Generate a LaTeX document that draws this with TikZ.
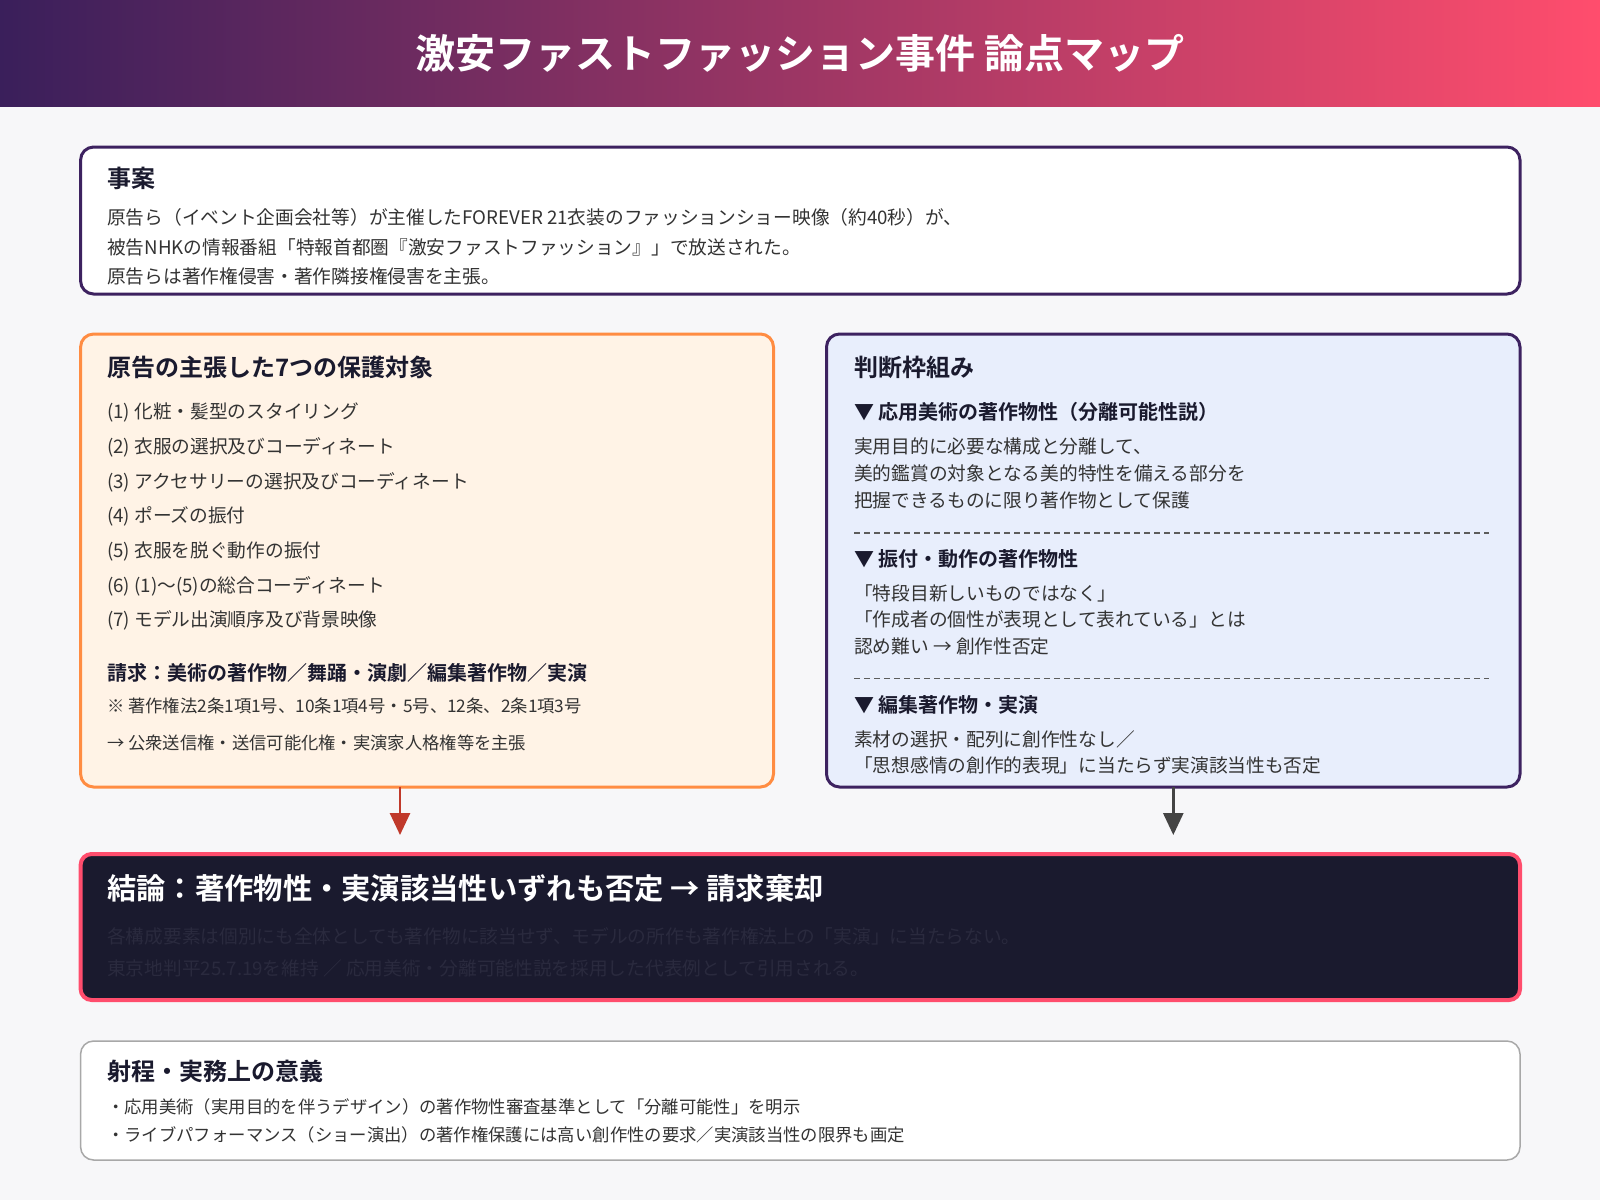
\documentclass[tikz,border=0pt]{standalone}
\usepackage{fontspec}
\setmainfont{Noto Sans CJK JP}[BoldFont={Noto Sans CJK JP Bold}]
\usetikzlibrary{arrows.meta}
\definecolor{bg}{HTML}{F7F7F9}
\definecolor{hdrL}{HTML}{3A1F5B}
\definecolor{hdrR}{HTML}{FF4D6D}
\definecolor{purp}{HTML}{3D2260}
\definecolor{orng}{HTML}{FF8C42}
\definecolor{orngfill}{HTML}{FFF3E6}
\definecolor{bluefill}{HTML}{E8EEFC}
\definecolor{navy}{HTML}{1A1A2E}
\definecolor{body}{HTML}{333333}
\definecolor{dimtxt}{HTML}{2A2A3E}
\definecolor{redarr}{HTML}{C0392B}
\definecolor{grayarr}{HTML}{444444}
\definecolor{grayb}{HTML}{A8A8A8}
\newcommand{\fsz}[1]{\fontsize{#1}{#1}\selectfont}
\tikzset{
  boxbase/.style={anchor=north west, inner sep=0pt, outer sep=0pt, rounded corners=13pt},
  factbox/.style={boxbase, draw=purp, line width=3pt, fill=white},
  leftbox/.style={boxbase, draw=orng, line width=3pt, fill=orngfill},
  rightbox/.style={boxbase, draw=purp, line width=3pt, fill=bluefill},
  conclbox/.style={boxbase, draw=hdrR, line width=4pt, fill=navy, rounded corners=11pt},
  botbox/.style={boxbase, draw=grayb, line width=1.5pt, fill=white},
  txt/.style={anchor=base west, inner sep=0pt, text=body, font=\fsz{18.7}},
  head/.style={anchor=base west, inner sep=0pt, text=navy, font=\bfseries\fsz{24}},
  subhead/.style={anchor=base west, inner sep=0pt, text=navy, font=\bfseries\fsz{20}},
  small/.style={anchor=base west, inner sep=0pt, text=body, font=\fsz{17.3}},
  sep/.style={draw=body!80, line width=1.2pt, dash pattern=on 6pt off 4pt},
  flow/.style={line width=2.7pt, -{Triangle[width=20pt,length=22pt]}, shorten >=19pt}
}
\begin{document}
\begin{tikzpicture}[x=1pt,y=-1pt]
\useasboundingbox (0,0) rectangle (1600,1200);
\fill[bg] (0,0) rectangle (1600,1200);
\shade[left color=hdrL, right color=hdrR] (0,0) rectangle (1600,106);
\node[anchor=base, inner sep=0pt, text=white, font=\bfseries\fsz{40}] (title) at (800,68.5) {激安ファストファッション事件 論点マップ};

% facts
\node[factbox, minimum width=1439.4pt, minimum height=147pt] (facts) at (80.6,147) {};
\node[head] (factsh) at (107,187.5) {事案};
\node[txt] (f1) at (107,224.5) {原告ら（イベント企画会社等）が主催したFOREVER 21衣装のファッションショー映像（約40秒）が、};
\node[txt] (f2) at (107,254.5) {被告NHKの情報番組「特報首都圏『激安ファストファッション』」で放送された。};
\node[txt] (f3) at (107,283.5) {原告らは著作権侵害・著作隣接権侵害を主張。};

% left
\node[leftbox, minimum width=692.9pt, minimum height=453pt] (left) at (80.6,334) {};
\node[head] (lefth) at (107,376) {原告の主張した7つの保護対象};
\node[txt] (l1) at (107,418) {(1) 化粧・髪型のスタイリング};
\node[txt] (l2) at (107,453) {(2) 衣服の選択及びコーディネート};
\node[txt] (l3) at (107,488) {(3) アクセサリーの選択及びコーディネート};
\node[txt] (l4) at (107,522) {(4) ポーズの振付};
\node[txt] (l5) at (107,557) {(5) 衣服を脱ぐ動作の振付};
\node[txt] (l6) at (107,592) {(6) (1)〜(5)の総合コーディネート};
\node[txt] (l7) at (107,626) {(7) モデル出演順序及び背景映像};
\node[subhead] (claim) at (107,680) {請求：美術の著作物／舞踊・演劇／編集著作物／実演};
\node[small] (law) at (107,712.3) {※ 著作権法2条1項1号、10条1項4号・5号、12条、2条1項3号};
\node[small] (rights) at (107,749.3) {→ 公衆送信権・送信可能化権・実演家人格権等を主張};

% right
\node[rightbox, minimum width=693.5pt, minimum height=453pt] (right) at (826.5,334) {};
\node[head] (righth) at (854,376) {判断枠組み};
\node[subhead] (r1h) at (854,419.5) {▼ 応用美術の著作物性（分離可能性説）};
\node[txt] (r1a) at (854,453) {実用目的に必要な構成と分離して、};
\node[txt] (r1b) at (854,480.5) {美的鑑賞の対象となる美的特性を備える部分を};
\node[txt] (r1c) at (854,507) {把握できるものに限り著作物として保護};
\coordinate (d1a) at (854,533); \coordinate (d1b) at (1489,533);
\draw[sep] (d1a) -- (d1b);
\node[subhead] (r2h) at (854,566.5) {▼ 振付・動作の著作物性};
\node[txt] (r2a) at (854,600) {「特段目新しいものではなく」};
\node[txt] (r2b) at (854,626) {「作成者の個性が表現として表れている」とは};
\node[txt] (r2c) at (854,653) {認め難い → 創作性否定};
\coordinate (d2a) at (854,678.6); \coordinate (d2b) at (1489,678.6);
\draw[sep] (d2a) -- (d2b);
\node[subhead] (r3h) at (854,712.5) {▼ 編集著作物・実演};
\node[txt] (r3a) at (854,746) {素材の選択・配列に創作性なし／};
\node[txt] (r3b) at (854,772) {「思想感情の創作的表現」に当たらず実演該当性も否定};

% conclusion
\node[conclbox, minimum width=1439.4pt, minimum height=146pt] (concl) at (80.6,854) {};
\node[anchor=base west, inner sep=0pt, text=white, font=\bfseries\fsz{29.3}] (conclh) at (107,899.8) {結論：著作物性・実演該当性いずれも否定 → 請求棄却};
\node[txt, text=dimtxt] (c1) at (107,943.8) {各構成要素は個別にも全体としても著作物に該当せず、モデルの所作も著作権法上の「実演」に当たらない。};
\node[txt, text=dimtxt] (c2) at (107,975.3) {東京地判平25.7.19を維持 ／ 応用美術・分離可能性説を採用した代表例として引用される。};

% arrows
\draw[flow, draw=redarr, fill=redarr] (left.south -| 400,0) -- (concl.north -| 400,0);
\draw[flow, draw=grayarr, fill=grayarr] (right.south -| 1173.3,0) -- (concl.north -| 1173.3,0);

% bottom
\node[botbox, minimum width=1439.4pt, minimum height=119pt] (bot) at (80.6,1041) {};
\node[head] (both) at (107,1080) {射程・実務上の意義};
\node[txt, font=\fsz{17.35}] (b1) at (107,1113.2) {・応用美術（実用目的を伴うデザイン）の著作物性審査基準として「分離可能性」を明示};
\node[txt, font=\fsz{17.35}] (b2) at (107,1141.2) {・ライブパフォーマンス（ショー演出）の著作権保護には高い創作性の要求／実演該当性の限界も画定};
\end{tikzpicture}
\end{document}
